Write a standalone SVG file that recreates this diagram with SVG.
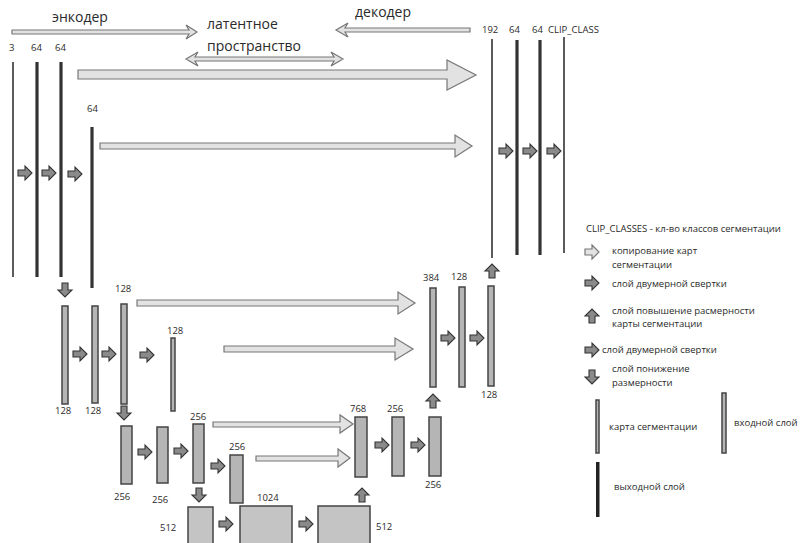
<svg xmlns="http://www.w3.org/2000/svg" width="808" height="543" viewBox="0 0 808 543">
<defs>
<style>
text{font-family:"Open Sans","Noto Sans","DejaVu Sans",sans-serif;fill:#2a2a2a}
.h{font-size:14px}
.n{font-size:9.5px}
.lg{font-size:9.5px}
.line{stroke:#333;stroke-width:1.6}
.lineT{stroke:#333;stroke-width:3.2}
.bar{fill:#b5b5b5;stroke:#444;stroke-width:1.5}
.box{fill:#c4c4c4;stroke:#444;stroke-width:1.5}
.copy{fill:#e2e2e2;stroke:#777;stroke-width:1.2}
.conv{fill:#8a8a8a;stroke:#333;stroke-width:1.1}
</style>
<path id="sa" d="M-7,-3 H0 V-7 L7,0 L0,7 V3 H-7 Z"/>
</defs>
<rect width="808" height="543" fill="#fff"/>

<g id="headers">
<text class="h" x="52" y="22">энкодер</text>
<text class="h" x="207" y="29">латентное</text>
<text class="h" x="207" y="51">пространство</text>
<text class="h" x="355" y="17">декодер</text>
</g>

<g id="connectors">
<polygon class="copy" points="12,30 189,30 186,25 197,32 186,39 189,34 12,34"/>
<polygon class="copy" points="470,28 345,28 348,23 336,30 348,37 345,32 470,32"/>
<polygon class="copy" points="195,57 334,57 331,52 343,59 331,66 334,61 195,61 198,66 186,59 198,52"/>
<polygon class="copy" points="78,70 447,70 447,60 476,75 447,90 447,79 78,79"/>
<polygon class="copy" points="100,143 455,143 455,135 472,146 455,157 455,149 100,149"/>
<polygon class="copy" points="137,300 398,300 398,292 415,303 398,314 398,306 137,306"/>
<polygon class="copy" points="224,346 395,346 395,338 413,349 395,360 395,352 224,352"/>
<polygon class="copy" points="213,422 340,422 340,415 353,424 340,433 340,427 213,427"/>
<polygon class="copy" points="256,456 338,456 338,449 350,458 338,467 338,461 256,461"/>
<use href="#sa" class="conv" x="25" y="173"/>
<use href="#sa" class="conv" x="49" y="173"/>
<use href="#sa" class="conv" x="75" y="174"/>
<use href="#sa" class="conv" x="80" y="354"/>
<use href="#sa" class="conv" x="109" y="354"/>
<use href="#sa" class="conv" x="147" y="355"/>
<use href="#sa" class="conv" x="145" y="452"/>
<use href="#sa" class="conv" x="181" y="451"/>
<use href="#sa" class="conv" x="218" y="466"/>
<use href="#sa" class="conv" x="226" y="524"/>
<use href="#sa" class="conv" x="306" y="524"/>
<use href="#sa" class="conv" x="382" y="445"/>
<use href="#sa" class="conv" x="418" y="445"/>
<use href="#sa" class="conv" x="448" y="338"/>
<use href="#sa" class="conv" x="477" y="338"/>
<use href="#sa" class="conv" x="506" y="151"/>
<use href="#sa" class="conv" x="530" y="151"/>
<use href="#sa" class="conv" x="554" y="151"/>
<use href="#sa" class="conv" transform="translate(65,290) rotate(90)"/>
<use href="#sa" class="conv" transform="translate(124,413) rotate(90)"/>
<use href="#sa" class="conv" transform="translate(199,495) rotate(90)"/>
<use href="#sa" class="conv" transform="translate(362,495) rotate(-90)"/>
<use href="#sa" class="conv" transform="translate(433,401) rotate(-90)"/>
<use href="#sa" class="conv" transform="translate(492,271) rotate(-90)"/>
</g>

<g id="enc1">
<text class="n" x="9" y="51">3</text>
<text class="n" x="31" y="51">64</text>
<text class="n" x="55" y="51">64</text>
<line class="line" x1="13" y1="62" x2="13" y2="277"/>
<line class="lineT" x1="37" y1="62" x2="37" y2="277"/>
<line class="lineT" x1="61" y1="62" x2="61" y2="277"/>
<text class="n" x="87" y="112">64</text>
<line class="lineT" x1="92" y1="127" x2="92" y2="288"/>
</g>

<g id="enc2">
<rect class="bar" x="62" y="306" width="6" height="98"/>
<rect class="bar" x="92" y="306" width="6" height="97"/>
<rect class="bar" x="121" y="304" width="6" height="100"/>
<text class="n" x="115" y="292">128</text>
<text class="n" x="55" y="414">128</text>
<text class="n" x="85" y="414">128</text>
<rect class="bar" x="171" y="338" width="4" height="73"/>
<text class="n" x="167" y="334">128</text>
</g>

<g id="enc3">
<rect class="bar" x="121" y="426" width="11" height="58"/>
<rect class="bar" x="157" y="427" width="11" height="56"/>
<rect class="bar" x="193" y="424" width="11" height="59"/>
<rect class="bar" x="230" y="455" width="13" height="48"/>
<text class="n" x="114" y="500">256</text>
<text class="n" x="152" y="503">256</text>
<text class="n" x="190" y="420">256</text>
<text class="n" x="229" y="450">256</text>
</g>

<g id="bottleneck">
<rect class="box" x="188" y="507" width="25" height="40"/>
<rect class="box" x="240" y="506" width="52" height="41"/>
<rect class="box" x="318" y="506" width="52" height="41"/>
<text class="n" x="160" y="531">512</text>
<text class="n" x="257" y="501">1024</text>
<text class="n" x="376" y="530">512</text>
</g>

<g id="dec3">
<rect class="bar" x="355" y="417" width="12" height="60"/>
<rect class="bar" x="392" y="417" width="12" height="59"/>
<rect class="bar" x="429" y="417" width="12" height="59"/>
<text class="n" x="350" y="412">768</text>
<text class="n" x="387" y="412">256</text>
<text class="n" x="425" y="488">256</text>
</g>

<g id="dec2">
<rect class="bar" x="430" y="288" width="6" height="99"/>
<rect class="bar" x="459" y="287" width="6" height="100"/>
<rect class="bar" x="488" y="286" width="6" height="100"/>
<text class="n" x="423" y="281">384</text>
<text class="n" x="451" y="280">128</text>
<text class="n" x="481" y="398">128</text>
</g>

<g id="dec1">
<text class="n" x="482" y="33">192</text>
<text class="n" x="509" y="33">64</text>
<text class="n" x="532" y="33">64</text>
<text class="n" x="548" y="33">CLIP_CLASS</text>
<line class="line" x1="492" y1="39" x2="492" y2="258"/>
<line class="lineT" x1="517" y1="40" x2="517" y2="255"/>
<line class="lineT" x1="540" y1="40" x2="540" y2="255"/>
<line class="line" x1="564" y1="37" x2="564" y2="253"/>
</g>

<g id="legend">
<text class="lg" x="586" y="232">CLIP_CLASSES - кл-во классов сегментации</text>
<use href="#sa" class="copy" x="592" y="252"/>
<text class="lg" x="612" y="254">копирование карт</text>
<text class="lg" x="612" y="268">сегментации</text>
<use href="#sa" class="conv" x="592" y="283"/>
<text class="lg" x="612" y="287">слой двумерной свертки</text>
<use href="#sa" class="conv" transform="translate(592,316) rotate(-90)"/>
<text class="lg" x="612" y="314">слой повышение расмерности</text>
<text class="lg" x="612" y="327">карты сегментации</text>
<use href="#sa" class="conv" x="592" y="350"/>
<text class="lg" x="602" y="353">слой двумерной свертки</text>
<use href="#sa" class="conv" transform="translate(592,377) rotate(90)"/>
<text class="lg" x="612" y="372">слой понижение</text>
<text class="lg" x="612" y="386">размерности</text>
<rect class="bar" x="596" y="400" width="3" height="53"/>
<text class="lg" x="609" y="430">карта сегментации</text>
<rect class="bar" x="722" y="393" width="4" height="60"/>
<text class="lg" x="734" y="426">входной слой</text>
<rect x="596" y="462" width="3.5" height="55" fill="#222"/>
<text class="lg" x="614" y="490">выходной слой</text>
</g>
</svg>
